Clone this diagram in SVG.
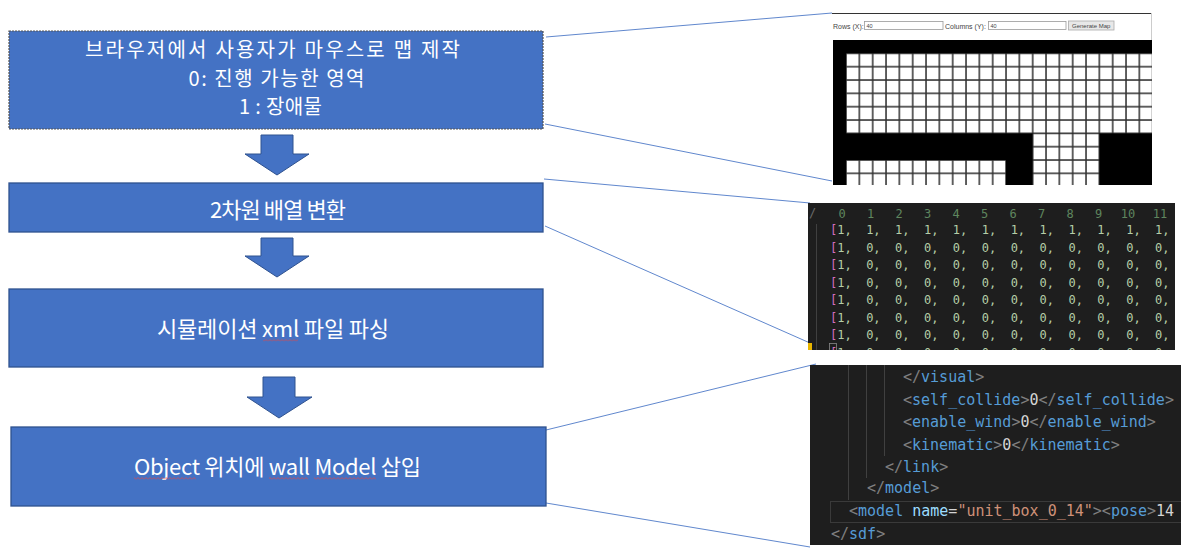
<svg xmlns="http://www.w3.org/2000/svg" width="1181" height="551" viewBox="0 0 1181 551">
<style>
.box{fill:#4472C4;stroke:#2F528F;stroke-width:1.3}
.box1{fill:#4472C4;stroke:#555;stroke-width:1.2;stroke-dasharray:2 1}
.lbl{font-family:"Noto Sans CJK KR","Noto Sans",sans-serif;font-size:22px;fill:#fff;text-anchor:middle}
.lbl1{font-size:20px}
.arrow{fill:#4472C4;stroke:#2F528F;stroke-width:1}
.conn{stroke:#4472C4;stroke-width:1;fill:none;opacity:0.85}
.sq{fill:url(#wavy)}
.ui{font-family:"Liberation Sans",Arial,sans-serif;fill:#444}
.mono{font-family:"DejaVu Sans Mono","Liberation Mono",monospace}
.arr{font-size:12px;fill:#b5cea8;white-space:pre}
.hdr{font-size:12px;fill:#5f865f;text-anchor:middle}
.br{fill:#d16fbf}
.code{font-size:15px;fill:#d4d4d4}
.p{fill:#808080}
.t{fill:#569cd6}
.a{fill:#9cdcfe}
.s{fill:#ce9178}
.guide{stroke:#404040;stroke-width:1}
</style>
<defs>
<pattern id="cells" patternUnits="userSpaceOnUse" x="846" y="53.333" width="13.333" height="13.333">
<rect x="0" y="0" width="13.333" height="13.333" fill="#333"/>
<rect x="0.8" y="0.8" width="11.8" height="11.8" fill="#fff"/>
</pattern>
<pattern id="wavy" patternUnits="userSpaceOnUse" x="0" y="0" width="4" height="3">
<path d="M0,2.5 L2,0.5 L4,2.5" fill="none" stroke="#e04848" stroke-width="0.8"/>
</pattern>
<clipPath id="c1"><rect x="832" y="13" width="320" height="172"/></clipPath>
<clipPath id="c2"><rect x="808" y="203" width="367" height="147"/></clipPath>
<clipPath id="c3"><rect x="810" y="365" width="371" height="180"/></clipPath>
</defs>

<g id="connectors">
<line class="conn" x1="546" y1="37" x2="832" y2="13"/>
<line class="conn" x1="545" y1="124" x2="832" y2="181"/>
<line class="conn" x1="544" y1="179" x2="810" y2="203"/>
<line class="conn" x1="545" y1="226" x2="810" y2="343"/>
<line class="conn" x1="546" y1="430" x2="816" y2="364"/>
<line class="conn" x1="546" y1="503" x2="810" y2="547"/>
<polygon class="arrow" points="261,135 293,135 293,154 309,154 277,175 245,154 261,154"/>
<polygon class="arrow" points="261,238 293,238 293,256 309,256 277,277 245,256 261,256"/>
<polygon class="arrow" points="263,377 295,377 295,397 312,397 279,418 247,397 263,397"/>
</g>

<g id="step1">
<rect class="box1" x="9" y="31" width="534" height="98"/>
<text class="lbl lbl1" x="272.5" y="56.5" textLength="375" lengthAdjust="spacing">브라우저에서 사용자가 마우스로 맵 제작</text>
<text class="lbl lbl1" x="276.5" y="85.5" textLength="176" lengthAdjust="spacing">0: 진행 가능한 영역</text>
<text class="lbl lbl1" x="280.5" y="114" textLength="83" lengthAdjust="spacing">1 : 장애물</text>
</g>

<g id="step2">
<rect class="box" x="9" y="183" width="534" height="49"/>
<text class="lbl" x="278" y="217.5" textLength="136" lengthAdjust="spacing">2차원 배열 변환</text>
</g>

<g id="step3">
<rect class="box" x="9" y="289" width="534" height="78"/>
<text class="lbl" x="273" y="336.5" textLength="232" lengthAdjust="spacing">시뮬레이션 xml 파일 파싱</text>
<rect class="sq" x="263" y="338.5" width="35" height="3"/>
</g>

<g id="step4">
<rect class="box" x="11" y="427" width="535" height="79"/>
<text class="lbl" x="277.5" y="474.5" textLength="287" lengthAdjust="spacing">Object 위치에 wall Model 삽입</text>
<rect class="sq" x="134" y="477" width="62" height="3"/>
<rect class="sq" x="269" y="477" width="39" height="3"/>
<rect class="sq" x="314" y="477" width="62" height="3"/>
</g>

<g id="screenshot-map" clip-path="url(#c1)">
<rect x="832" y="13" width="320" height="172" fill="#fff"/>
<line x1="832" y1="13.5" x2="1152" y2="13.5" stroke="#333" stroke-width="1"/>
<line x1="1151.5" y1="13" x2="1151.5" y2="40" stroke="#ccc" stroke-width="1"/>
<text class="ui" x="833" y="28.5" font-size="7">Rows (X):</text>
<rect x="864.5" y="21.5" width="78.5" height="8" fill="#fff" stroke="#999" stroke-width="0.8"/>
<text class="ui" x="866.5" y="27.8" font-size="5.5">40</text>
<text class="ui" x="945" y="28.5" font-size="7">Columns (Y):</text>
<rect x="988.5" y="21.5" width="77.5" height="8" fill="#fff" stroke="#999" stroke-width="0.8"/>
<text class="ui" x="990.5" y="27.8" font-size="5.5">40</text>
<rect x="1068.5" y="21" width="45.5" height="9" fill="#e8e8e8" stroke="#aaa" stroke-width="0.8"/>
<text class="ui" x="1091.2" y="28" font-size="6" text-anchor="middle">Generate Map</text>
<rect x="833" y="40" width="320" height="146" fill="#000"/>
<rect x="846" y="53.333" width="306" height="80" fill="url(#cells)"/>
<rect x="846" y="160" width="160" height="26.7" fill="url(#cells)"/>
<rect x="1032.667" y="133.333" width="66.667" height="53.4" fill="url(#cells)"/>
</g>

<g id="screenshot-array" clip-path="url(#c2)">
<rect x="808" y="203" width="367" height="147" fill="#1e1e1e"/>
<text class="mono" x="809" y="217" font-size="12" fill="#6a6a6a">/</text>
<line class="guide" x1="816.5" y1="224" x2="816.5" y2="350"/>
<g class="mono hdr">
<text x="842" y="218">0</text><text x="870.5" y="218">1</text><text x="899" y="218">2</text><text x="927.5" y="218">3</text>
<text x="956" y="218">4</text><text x="984.5" y="218">5</text><text x="1013" y="218">6</text><text x="1041.5" y="218">7</text>
<text x="1070" y="218">8</text><text x="1098.5" y="218">9</text><text x="1128" y="218">10</text><text x="1160" y="218">11</text>
</g>
<g class="mono arr">
<text xml:space="preserve" x="830" y="234"><tspan class="br">[</tspan>1,  1,  1,  1,  1,  1,  1,  1,  1,  1,  1,  1,</text>
<text xml:space="preserve" x="830" y="251.5"><tspan class="br">[</tspan>1,  0,  0,  0,  0,  0,  0,  0,  0,  0,  0,  0,</text>
<text xml:space="preserve" x="830" y="269"><tspan class="br">[</tspan>1,  0,  0,  0,  0,  0,  0,  0,  0,  0,  0,  0,</text>
<text xml:space="preserve" x="830" y="286.5"><tspan class="br">[</tspan>1,  0,  0,  0,  0,  0,  0,  0,  0,  0,  0,  0,</text>
<text xml:space="preserve" x="830" y="304"><tspan class="br">[</tspan>1,  0,  0,  0,  0,  0,  0,  0,  0,  0,  0,  0,</text>
<text xml:space="preserve" x="830" y="321.5"><tspan class="br">[</tspan>1,  0,  0,  0,  0,  0,  0,  0,  0,  0,  0,  0,</text>
<text xml:space="preserve" x="830" y="339"><tspan class="br">[</tspan>1,  0,  0,  0,  0,  0,  0,  0,  0,  0,  0,  0,</text>
<text xml:space="preserve" x="830" y="356.5"><tspan class="br">[</tspan>1,  0,  0,  0,  0,  0,  0,  0,  0,  0,  0,  0,</text>
</g>
<rect x="808" y="343" width="4" height="7" fill="#e8b500"/>
<rect x="829.5" y="343.5" width="7" height="7" fill="none" stroke="#888" stroke-width="0.8"/>
</g>

<g id="screenshot-xml" clip-path="url(#c3)">
<rect x="810" y="365" width="371" height="180" fill="#1e1e1e"/>
<rect x="830.5" y="501.5" width="352" height="21" fill="none" stroke="#3a3a3a" stroke-width="1"/>
<line class="guide" x1="848.5" y1="365" x2="848.5" y2="500"/>
<line class="guide" x1="866.5" y1="365" x2="866.5" y2="478"/>
<line class="guide" x1="884.5" y1="365" x2="884.5" y2="456"/>
<g class="mono code">
<text x="903" y="382"><tspan class="p">&lt;/</tspan><tspan class="t">visual</tspan><tspan class="p">&gt;</tspan></text>
<text x="903" y="405"><tspan class="p">&lt;</tspan><tspan class="t">self_collide</tspan><tspan class="p">&gt;</tspan>0<tspan class="p">&lt;/</tspan><tspan class="t">self_collide</tspan><tspan class="p">&gt;</tspan></text>
<text x="903" y="427"><tspan class="p">&lt;</tspan><tspan class="t">enable_wind</tspan><tspan class="p">&gt;</tspan>0<tspan class="p">&lt;/</tspan><tspan class="t">enable_wind</tspan><tspan class="p">&gt;</tspan></text>
<text x="903" y="449.5"><tspan class="p">&lt;</tspan><tspan class="t">kinematic</tspan><tspan class="p">&gt;</tspan>0<tspan class="p">&lt;/</tspan><tspan class="t">kinematic</tspan><tspan class="p">&gt;</tspan></text>
<text x="885" y="471.5"><tspan class="p">&lt;/</tspan><tspan class="t">link</tspan><tspan class="p">&gt;</tspan></text>
<text x="867" y="493"><tspan class="p">&lt;/</tspan><tspan class="t">model</tspan><tspan class="p">&gt;</tspan></text>
<text x="849" y="516"><tspan class="p">&lt;</tspan><tspan class="t">model</tspan> <tspan class="a">name</tspan>=<tspan class="s">"unit_box_0_14"</tspan><tspan class="p">&gt;&lt;</tspan><tspan class="t">pose</tspan><tspan class="p">&gt;</tspan>14</text>
<text x="831" y="538.5"><tspan class="p">&lt;/</tspan><tspan class="t">sdf</tspan><tspan class="p">&gt;</tspan></text>
</g>
</g>
</svg>
